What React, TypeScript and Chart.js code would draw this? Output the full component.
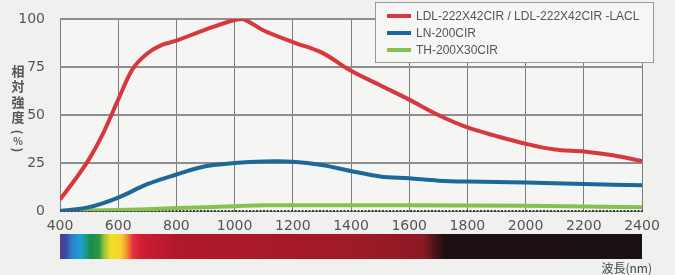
import React, { useEffect, useRef } from "react";
import { Chart, registerables } from "chart.js";

Chart.register(...registerables);

const xMin = 400;
const xMax = 2400;
const xStep = 200;
const yMin = 0;
const yMax = 100;
const yStep = 25;
const yGridValues = [25, 50, 75, 100];

const redLabel = "LDL-222X42CIR / LDL-222X42CIR -LACL";
const redWl = [400, 450, 500, 550, 600, 650, 700, 750, 800, 900, 1000, 1030, 1100, 1200, 1300, 1400, 1500, 1600, 1700, 1800, 1900, 2000, 2100, 2200, 2300, 2400];
const redVal = [6, 16, 27, 41, 58, 74, 82, 86.5, 88.7, 94.5, 99.5, 100, 94, 88, 82.5, 73, 65.5, 58, 50, 43.5, 39, 35, 32, 31, 29, 26];

const blueLabel = "LN-200CIR";
const blueWl = [400, 500, 600, 700, 800, 900, 1000, 1100, 1200, 1300, 1400, 1500, 1600, 1700, 1800, 2000, 2200, 2400];
const blueVal = [0, 2, 7, 14, 19, 23.3, 25, 25.8, 25.7, 24, 20.8, 18, 17, 15.8, 15.3, 14.8, 14, 13.4];

const greenLabel = "TH-200X30CIR";
const greenWl = [400, 600, 800, 1000, 1100, 1200, 1600, 2000, 2400];
const greenVal = [0, 0.5, 1.5, 2.5, 3, 3, 3, 2.7, 2];

const spectrumNm = [400, 420, 440, 470, 490, 505, 535, 550, 575, 610, 630, 650, 680, 800, 1400, 1650, 1690, 1720, 2400];
const spectrumColor = ["#5a3a8a", "#3a4aa0", "#2a80c8", "#20a0d8", "#1a9a80", "#1a8a50", "#2e9a3a", "#90c040", "#f0e020", "#f5d030", "#f09030", "#e83040", "#d01c34", "#b0182c", "#a01a28", "#8a1a24", "#4a1418", "#1e1012", "#1a1012"];

const yTitleChars = ["相", "対", "強", "度"];
const xTitle = "波長(nm)";

const gridColor = "#7e7e7e";

const pts = (xs: number[], ys: number[]) => xs.map((x, i) => ({ x, y: ys[i] }));

const decorPlugin = {
  id: "decor",
  beforeDraw(chart: any) {
    const { ctx, width, height } = chart;
    const ca = chart.chartArea;
    ctx.save();
    ctx.fillStyle = "#f0f0ee";
    ctx.fillRect(0, 0, width, height);
    ctx.fillStyle = "#f5f5f3";
    ctx.fillRect(ca.left, ca.top, ca.right - ca.left, ca.bottom - ca.top);
    ctx.restore();
  },
  beforeDatasetsDraw(chart: any) {
    const { ctx } = chart;
    const ca = chart.chartArea;
    const ys = chart.scales.y;
    ctx.save();
    ctx.fillStyle = "#8e8e8e";
    yGridValues.forEach((v) => {
      const py = Math.round(ys.getPixelForValue(v));
      ctx.fillRect(ca.left, py - 1, ca.right - ca.left, 2);
    });
    const y0 = Math.round(ys.getPixelForValue(yMin));
    ctx.fillStyle = "#3c3c3c";
    for (let x = ca.left; x < ca.right; x += 3.5) {
      ctx.fillRect(x, y0 - 1, 2, 2);
    }
    ctx.restore();
  },
  afterDraw(chart: any) {
    const { ctx } = chart;
    const xs = chart.scales.x;
    const ca = chart.chartArea;
    ctx.save();
    // spectrum bar
    const x0 = xs.getPixelForValue(xMin);
    const x1 = xs.getPixelForValue(xMax);
    const g = ctx.createLinearGradient(x0, 0, x1, 0);
    spectrumNm.forEach((nm, i) => {
      g.addColorStop((xs.getPixelForValue(nm) - x0) / (x1 - x0), spectrumColor[i]);
    });
    ctx.fillStyle = g;
    ctx.fillRect(x0, ca.bottom + 23, x1 - x0, 25);

    // x title
    ctx.fillStyle = "#444";
    ctx.font = "12px 'Noto Sans CJK JP'";
    ctx.textAlign = "right";
    ctx.textBaseline = "middle";
    ctx.fillText(xTitle, x1 + 10, ca.bottom + 57);

    // y title (vertical)
    ctx.fillStyle = "#555";
    ctx.font = "bold 13px 'Noto Sans CJK JP'";
    ctx.textAlign = "center";
    yTitleChars.forEach((c, i) => ctx.fillText(c, 18, 71 + i * 15.5));
    const parens = ["(", "%", ")"];
    const py = [132, 141, 150];
    parens.forEach((c, i) => {
      ctx.save();
      ctx.translate(18, py[i]);
      if (c !== "%") ctx.rotate(Math.PI / 2);
      ctx.font = c === "%" ? "bold 10px 'Noto Sans CJK JP'" : "bold 12px 'Noto Sans CJK JP'";
      ctx.fillText(c, 0, 0);
      ctx.restore();
    });

    // legend
    ctx.fillStyle = "#f6f6f4";
    ctx.fillRect(375, 2.5, 278, 60);
    ctx.strokeStyle = "#999";
    ctx.lineWidth = 1;
    ctx.strokeRect(375.5, 2.5, 278, 60);
    const rows = [16, 33, 50];
    chart.data.datasets.forEach((ds: any, i: number) => {
      ctx.strokeStyle = ds.borderColor;
      ctx.lineWidth = 4;
      ctx.beginPath();
      ctx.moveTo(387, rows[i]);
      ctx.lineTo(411, rows[i]);
      ctx.stroke();
      ctx.fillStyle = "#555";
      ctx.font = "12px 'Liberation Sans'";
      ctx.textAlign = "left";
      ctx.textBaseline = "middle";
      ctx.fillText(ds.label, 416, rows[i] + 0.5);
    });
    ctx.restore();
  },
};

export default function App() {
  const ref = useRef<HTMLCanvasElement>(null);
  useEffect(() => {
    if (!ref.current) return;
    const chart = new Chart(ref.current, {
      type: "line",
      data: {
        datasets: [
          { label: redLabel, data: pts(redWl, redVal), borderColor: "#d6383e", borderWidth: 4, pointRadius: 0, tension: 0.35, fill: false },
          { label: blueLabel, data: pts(blueWl, blueVal), borderColor: "#1d6896", borderWidth: 4, pointRadius: 0, tension: 0.35, fill: false },
          { label: greenLabel, data: pts(greenWl, greenVal), borderColor: "#84c24e", borderWidth: 4, pointRadius: 0, tension: 0.35, fill: false },
        ],
      },
      options: {
        animation: false,
        responsive: false,
        maintainAspectRatio: false,
        layout: { padding: { left: 0, right: 33, top: 19, bottom: 0 } },
        plugins: { legend: { display: false }, tooltip: { enabled: false } },
        scales: {
          x: {
            type: "linear",
            min: xMin,
            max: xMax,
            afterFit: (s: any) => { s.height = 64; },
            grid: { color: gridColor, lineWidth: 1, drawTicks: false },
            border: { display: true, color: gridColor, width: 1 },
            ticks: { stepSize: xStep, color: "#555", padding: 7, font: { family: "DejaVu Sans", size: 14 }, maxRotation: 0, autoSkip: false, callback: (v: any) => String(v) },
          },
          y: {
            type: "linear",
            min: yMin,
            max: yMax,
            afterFit: (s: any) => { s.width = 60; },
            grid: { display: false },
            border: { display: true, color: gridColor, width: 1 },
            ticks: { stepSize: yStep, color: "#555", padding: 7, font: { family: "DejaVu Sans", size: 14 }, callback: (v: any) => String(v) },
          },
        },
      },
      plugins: [decorPlugin],
    });
    return () => chart.destroy();
  }, []);
  return (
    <div style={{ position: "absolute", left: 0, top: 0, width: 675, height: 275 }}>
      <canvas ref={ref} width={675} height={275} />
    </div>
  );
}
